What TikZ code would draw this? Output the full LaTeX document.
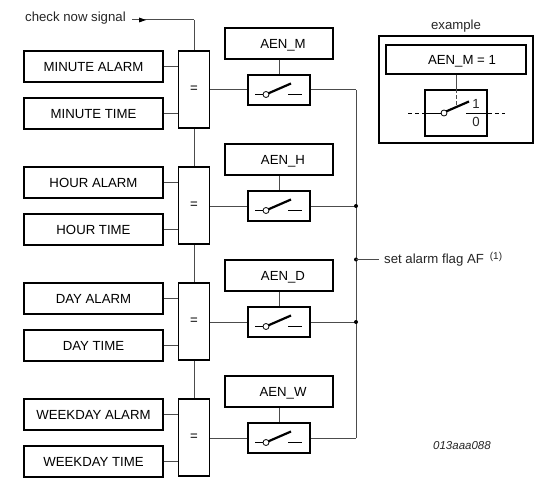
\documentclass[tikz,border=0pt]{standalone}
\usepackage{fontspec}
\setmainfont{Liberation Sans}
\definecolor{wire}{gray}{0.3}
\tikzset{
 x=1pt,y=-1pt,
 box/.style={draw=black,line width=1.5pt,fill=white,minimum width=#1,inner sep=0pt,text height=9.5pt,text depth=0pt,font=\fontsize{13.2}{15}\selectfont},
 wirepath/.style={draw=wire,line width=1pt},
 thinblack/.style={draw=black,line width=0.8pt},
 blade/.style={draw=black,line width=2.2pt},
 txt/.style={inner sep=0pt,font=\fontsize{13.2}{15}\selectfont,text=black!85},
 dot/.style={circle,fill=black,inner sep=0pt,minimum size=4pt},
 pivot/.style={circle,draw=black,fill=white,line width=0.8pt,inner sep=0pt,minimum size=6pt},
}
\begin{document}
\begin{tikzpicture}
\useasboundingbox (0,0) rectangle (548,489);
\fill[white] (0,0) rectangle (548,489);
% bus and outputs
\node[txt,anchor=west] (check) at (25,18.5) {check now signal};
\coordinate (arrowstart) at (132,20);
\coordinate (busturn) at (194,20);
\coordinate (busend) at (194,399);
\draw[wirepath] (busturn) -- (busend);
\draw[wirepath] (busturn) -- (arrowstart);
\fill[black] (146,20) -- (139,17.5) -- (139,22.5) -- cycle;
\coordinate (outtop) at (356,90);
\coordinate (outbot) at (356,438);
\draw[wirepath] (outtop) -- (outbot);
\foreach \nm/\lab/\alab/\tlab/\row in {M/AEN\_M/MINUTE ALARM/MINUTE TIME/0,H/AEN\_H/HOUR ALARM/HOUR TIME/1,D/AEN\_D/DAY ALARM/DAY TIME/2,W/AEN\_W/WEEKDAY ALARM/WEEKDAY TIME/3}{
 \begin{scope}[yshift=-\row*116pt]
 \node[box=139pt,minimum height=31pt] (alarm\nm) at (93.5,66.5) {\alab};
 \node[box=139pt,minimum height=31pt] (time\nm) at (93.5,113.5) {\tlab};
 \node[box=31pt,minimum height=77pt] (eq\nm) at (194,89.5) {\raisebox{2pt}{=}};
 \node[box=108pt,minimum height=31pt] (aen\nm) at (279,43.5) {\hspace{8pt}\lab};
 \node[box=62pt,minimum height=30pt] (sw\nm) at (279,90) {};
 \draw[wirepath] (alarm\nm.east) -- (alarm\nm.east-|eq\nm.west);
 \draw[wirepath] (time\nm.east) -- (time\nm.east-|eq\nm.west);
 \draw[wirepath] (sw\nm.west-|eq\nm.east) -- (sw\nm.west);
 \draw[wirepath] (aen\nm.south) -- (sw\nm.north);
 \draw[wirepath] (sw\nm.east) -- (356,90);
 \draw[thinblack] (255,94.5) -- (264,94.5);
 \draw[thinblack] (288,94.5) -- (302,94.5);
 \draw[blade] (268,93.5) -- (291,83.5);
 \node[pivot] (piv\nm) at (266,94.5) {};
 \end{scope}
}
\node[dot] (dotH) at (356,206) {};
\node[dot] (dotS) at (356,259.5) {};
\node[dot] (dotD) at (356,322) {};
\node[txt,anchor=west] (setaf) at (384,259) {set alarm flag AF\hspace{0.45em}\raisebox{3.5pt}{\fontsize{10}{11}\selectfont (1)}};
\draw[wirepath] (dotS.center) -- (379,259.5);
% example
\node[txt] (extitle) at (456,26) {example};
\node[draw=black,line width=1.5pt,minimum width=154pt,minimum height=107pt,inner sep=0pt] (exouter) at (456,89.5) {};
\node[box=140pt,minimum height=29pt] (exaen) at (456,59.5) {\hspace{12pt}AEN\_M = 1};
\node[box=62pt,minimum height=46pt] (exsw) at (456,113) {};
\coordinate (junc) at (456,107);
\draw[wirepath] (exaen.south) -- (exsw.north);
\draw[wirepath,dash pattern=on 4pt off 2pt] (exsw.north) -- (junc);
\coordinate (dl) at (408,113);
\coordinate (dr) at (505,113);
\draw[thinblack,dash pattern=on 4pt off 3pt] (dl) -- (exsw.west);
\draw[thinblack] (exsw.west) -- (442,113);
\draw[thinblack] (466,113) -- (exsw.east);
\draw[thinblack,dash pattern=on 4pt off 3pt] (exsw.east) -- (dr);
\draw[blade] (446,111.5) -- (469,101.5);
\node[pivot] (expiv) at (444,113) {};
\node[txt] (one) at (476,104) {1};
\node[txt] (zero) at (476,122) {0};
\node[txt,anchor=west,font=\fontsize{11.5}{13}\selectfont\itshape] (ref) at (433,446) {013aaa088};
\end{tikzpicture}
\end{document}
